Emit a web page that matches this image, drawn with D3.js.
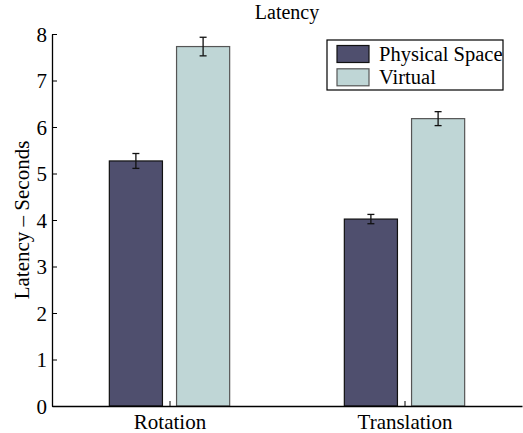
<!doctype html>
<html>
<head>
    <script src="https://d3js.org/d3.v7.min.js"></script>
    <style>
        body { margin: 0; background: #fff; }
        svg text { font-family: "Liberation Serif", "Times New Roman", serif !important; }
    </style>
</head>
<body>
    <script>
        let categories = ["Rotation", "Translation"];
        let seriesNames = ["Physical Space", "Virtual"];
        let physicalMean = [5.27, 4.02];
        let physicalErr = [0.16, 0.10];
        let virtualMean = [7.73, 6.18];
        let virtualErr = [0.20, 0.15];
        let yTicks = [0, 1, 2, 3, 4, 5, 6, 7, 8];
        let colors = ["#4f4f6e", "#bfd6d6"];

        let width = 523, height = 433;
        let plotL = 52, plotR = 522, plotT = 34, plotB = 406;

        let svg = d3.select("body").append("svg")
                    .attr("width", width).attr("height", height);

        // x in matlab style: categories at 1, 2 with limits 0.5..2.5
        let x = d3.scaleLinear().domain([0.5, 2.5]).range([plotL, plotR]);
        let y = d3.scaleLinear().domain([0, 8]).range([plotB, plotT]);
        let barW = 0.226, offset = 0.143;

        let rows = [];
        categories.forEach(function(c, i){
            rows.push({s: 0, pos: i + 1 - offset, v: physicalMean[i], e: physicalErr[i]});
            rows.push({s: 1, pos: i + 1 + offset, v: virtualMean[i], e: virtualErr[i]});
        });

        svg.selectAll("rect.bar").data(rows).enter().append("rect")
            .attr("class", "bar")
            .attr("x", function(d){ return x(d.pos - barW / 2); })
            .attr("width", function(d){ return x(barW) - x(0); })
            .attr("y", function(d){ return y(d.v); })
            .attr("height", function(d){ return y(0) - y(d.v); })
            .style("fill", function(d){ return colors[d.s]; })
            .style("stroke", function(d){ return d.s == 0 ? "#111" : "#555"; })
            .style("stroke-width", 1.2);

        // error bars
        let eb = svg.selectAll("g.err").data(rows).enter().append("g")
            .attr("class", "err").style("stroke", "#111").style("stroke-width", 1.3);
        eb.append("line")
            .attr("x1", function(d){ return x(d.pos); }).attr("x2", function(d){ return x(d.pos); })
            .attr("y1", function(d){ return y(d.v + d.e); }).attr("y2", function(d){ return y(d.v - d.e); });
        eb.append("line")
            .attr("x1", function(d){ return x(d.pos) - 3.5; }).attr("x2", function(d){ return x(d.pos) + 3.5; })
            .attr("y1", function(d){ return y(d.v + d.e); }).attr("y2", function(d){ return y(d.v + d.e); });
        eb.append("line")
            .attr("x1", function(d){ return x(d.pos) - 3.5; }).attr("x2", function(d){ return x(d.pos) + 3.5; })
            .attr("y1", function(d){ return y(d.v - d.e); }).attr("y2", function(d){ return y(d.v - d.e); });

        // axes (ticks point inward)
        let yAxis = d3.axisLeft(y).tickValues(yTicks).tickSizeInner(-5).tickSizeOuter(0).tickPadding(5);
        let gy = svg.append("g").attr("transform", "translate(" + plotL + ",0)").call(yAxis);
        let xAxis = d3.axisBottom(x).tickValues([1, 2]).tickFormat(function(d){ return categories[d - 1]; })
                      .tickSizeInner(-5).tickSizeOuter(0).tickPadding(10);
        let gx = svg.append("g").attr("transform", "translate(0," + plotB + ")").call(xAxis);
        [gx, gy].forEach(function(g){
            g.attr("font-family", "Liberation Serif").attr("font-size", 21);
            g.select(".domain").style("stroke", "#000").style("stroke-width", 1.3);
            g.selectAll(".tick line").style("stroke", "#000").style("stroke-width", 1);
            g.selectAll("text").style("font-size", "21px").style("fill", "#000");
        });
        gy.selectAll("text").attr("dy", "0.35em");
        gx.selectAll("text").attr("dy", "0.62em");

        svg.append("text").attr("x", (plotL + plotR) / 2).attr("y", 19)
            .attr("text-anchor", "middle").style("font-size", "20px").text("Latency");

        svg.append("text")
            .attr("transform", "translate(29," + (plotT + plotB) / 2 + ") rotate(-90)")
            .attr("text-anchor", "middle").style("font-size", "21px").text("Latency \u2013 Seconds");

        // legend
        let lg = svg.append("g");
        lg.append("rect").attr("x", 327).attr("y", 40).attr("width", 176).attr("height", 50)
            .style("fill", "#fff").style("stroke", "#000").style("stroke-width", 1.2);
        seriesNames.forEach(function(n, i){
            lg.append("rect").attr("x", 337).attr("y", 45.5 + i * 23.3).attr("width", 32).attr("height", 17)
                .style("fill", colors[i]).style("stroke", i == 0 ? "#111" : "#555").style("stroke-width", 1.2);
            lg.append("text").attr("x", 379).attr("y", 61 + i * 23.3)
                .style("font-size", "20.5px").text(n);
        });
    </script>
</body>
</html>
